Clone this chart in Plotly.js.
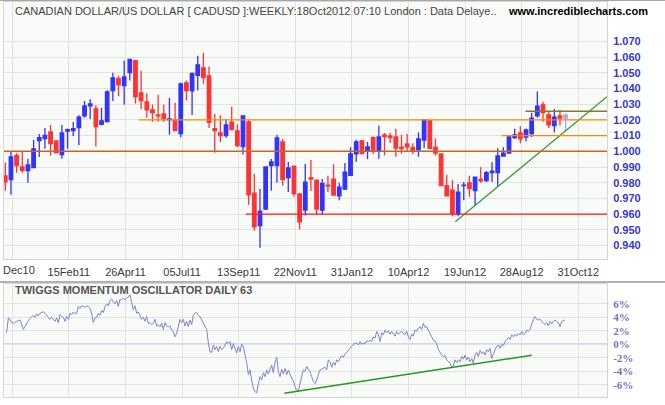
<!DOCTYPE html>
<html><head><meta charset="utf-8">
<script src="https://cdn.plot.ly/plotly-3.0.1.min.js"></script>
<style>html,body{margin:0;padding:0;background:#fff;overflow:hidden}#chart{width:665px;height:405px}</style>
</head><body><div id="chart"></div>
<script>
// ---- weekly CAD/USD candles ----
const opens = [0.9843,0.9819,0.9974,0.9900,0.9877,0.9896,1.0068,1.0081,1.0123,1.0066,
0.9979,1.0128,1.0132,1.0151,1.0226,1.0289,1.0270,1.0172,1.0189,1.0387,
1.0462,1.0419,1.0502,1.0577,1.0372,1.0315,1.0264,1.0232,1.0238,1.0200,
1.0200,1.0113,1.0436,1.0385,1.0483,1.0532,1.0481,1.0145,1.0117,1.0100,
1.0185,1.0130,1.0030,1.0187,0.9734,0.9526,0.9632,0.9909,0.9909,1.0060,
0.9832,0.9906,0.9728,0.9626,0.9832,0.9817,0.9626,0.9785,0.9823,0.9717,
0.9760,0.9847,0.9983,1.0066,1.0000,1.0087,1.0004,1.0104,1.0098,1.0091,
1.0026,1.0047,1.0023,1.0009,1.0072,1.0196,1.0026,0.9983,0.9781,0.9753,
0.9600,0.9781,0.9798,0.9749,0.9821,0.9813,0.9864,0.9864,0.9970,0.9989,
1.0087,1.0117,1.0091,1.0113,1.0226,1.0296,1.0232,1.0164,1.0226,1.0211];
const highs = [0.9928,0.9998,0.9987,1.0000,0.9953,1.0072,1.0111,1.0149,1.0168,1.0070,
1.0168,1.0145,1.0187,1.0230,1.0321,1.0332,1.0294,1.0277,1.0389,1.0500,
1.0481,1.0577,1.0589,1.0583,1.0513,1.0370,1.0298,1.0360,1.0296,1.0340,
1.0310,1.0438,1.0451,1.0502,1.0609,1.0628,1.0540,1.0238,1.0230,1.0204,
1.0283,1.0170,1.0226,1.0200,0.9855,0.9760,0.9900,0.9951,1.0104,1.0079,
0.9932,0.9906,0.9728,0.9919,0.9945,0.9817,0.9823,0.9845,0.9917,0.9800,
0.9926,1.0026,1.0074,1.0074,1.0060,1.0096,1.0162,1.0117,1.0117,1.0143,
1.0106,1.0110,1.0051,1.0119,1.0206,1.0200,1.0081,0.9983,0.9851,0.9817,
0.9791,0.9804,0.9845,0.9836,0.9900,0.9874,0.9932,1.0019,1.0026,1.0098,
1.0143,1.0160,1.0145,1.0245,1.0381,1.0315,1.0253,1.0270,1.0264,1.0243];
const lows = [0.9749,0.9723,0.9864,0.9864,0.9800,0.9896,0.9964,1.0017,0.9972,0.9987,
0.9953,1.0017,1.0098,1.0040,1.0213,1.0206,1.0030,1.0166,1.0183,1.0321,
1.0351,1.0296,1.0451,1.0304,1.0268,1.0215,1.0189,1.0189,1.0189,1.0106,
1.0130,1.0091,1.0323,1.0232,1.0387,1.0430,1.0149,0.9991,1.0057,1.0087,
1.0136,1.0026,0.9979,0.9660,0.9494,0.9385,0.9626,0.9749,0.9800,0.9781,
0.9740,0.9711,0.9504,0.9591,0.9747,0.9598,0.9598,0.9740,0.9717,0.9689,
0.9753,0.9843,0.9932,0.9979,0.9951,0.9983,0.9953,0.9974,1.0053,0.9966,
0.9985,1.0004,0.9983,0.9966,1.0021,1.0015,0.9972,0.9777,0.9713,0.9587,
0.9587,0.9689,0.9711,0.9653,0.9800,0.9804,0.9804,0.9774,0.9966,0.9985,
1.0079,1.0051,1.0062,1.0091,1.0215,1.0189,1.0149,1.0119,1.0164,1.0130];
const closes = [0.9806,0.9964,0.9909,0.9879,0.9913,1.0015,1.0087,1.0102,1.0049,0.9991,
1.0117,1.0138,1.0145,1.0217,1.0289,1.0302,1.0157,1.0194,1.0379,1.0468,
1.0423,1.0474,1.0585,1.0349,1.0323,1.0264,1.0247,1.0226,1.0209,1.0206,
1.0132,1.0430,1.0387,1.0496,1.0551,1.0470,1.0185,1.0132,1.0100,1.0168,
1.0138,1.0036,1.0226,0.9723,0.9519,0.9619,0.9900,0.9932,1.0085,0.9821,
0.9894,0.9730,0.9551,0.9804,0.9823,0.9632,0.9796,0.9779,0.9721,0.9772,
0.9868,0.9983,1.0060,0.9985,1.0028,1.0000,1.0091,1.0094,1.0087,1.0021,
1.0017,1.0028,1.0006,1.0079,1.0200,1.0019,0.9989,0.9781,0.9717,0.9604,
0.9740,0.9785,0.9762,0.9836,0.9811,0.9864,0.9874,0.9970,0.9989,1.0091,
1.0104,1.0079,1.0136,1.0211,1.0287,1.0247,1.0168,1.0217,1.0211,1.0230];

const tickLabels = ['Dec10','15Feb11','26Apr11','05Jul11','13Sep11','22Nov11','31Jan12','10Apr12','19Jun12','28Aug12','31Oct12'];
const priceTicks = [0.94,0.95,0.96,0.97,0.98,0.99,1.00,1.01,1.02,1.03,1.04,1.05,1.06,1.07];

// analyst lines: level and first week they start at
const levelValues = [1.000, 1.020, 0.960, 1.010, 1.0255];
const levelStarts = [null, 23.6, 42.5, 87.7, 91.9];
const levelColors = ['#c8661e','#ff8a00','#ff1a1a','#ff8a00','#7f7f1e'];
const trendWeeks = [79.5, 106.3];
const trendPrices = [0.9551, 1.0347];

// ---- Twiggs Momentum (daily 63), % read at regular intervals ----
const oscValues = [1.7,3.9,3.7,3.2,3.1,3.3,3.4,3.5,3.6,3.0,2.2,2.6,3.1,3.5,3.8,4.0,4.3,4.0,4.5,4.2,
4.6,4.7,4.8,4.6,4.3,4.1,3.7,4.0,3.7,3.4,3.9,3.2,4.4,4.1,4.0,3.4,4.1,3.7,4.6,4.4,
4.8,4.5,4.6,5.6,5.3,5.7,5.6,5.5,5.7,5.6,5.3,4.6,3.2,3.9,4.0,4.6,4.3,5.0,4.7,5.6,
6.0,5.7,6.5,6.7,6.3,6.0,6.5,5.6,6.7,6.6,6.8,6.6,6.8,7.1,7.3,6.2,5.1,5.7,4.6,4.8,
4.1,3.7,4.0,3.4,4.1,3.1,3.2,2.9,3.1,3.7,2.7,2.9,2.6,3.1,2.2,3.2,2.7,2.6,2.7,2.1,
1.9,1.1,1.6,2.6,3.7,3.2,3.7,2.7,3.4,2.6,3.6,2.9,4.3,4.6,4.7,4.3,4.1,3.6,3.1,2.5,
2.2,0.2,-1.1,-1.2,-0.1,-0.8,-0.3,-1.1,-0.3,-0.8,-0.6,-0.1,0.4,0.1,0.4,-0.8,0.1,-0.6,-1.3,-0.3,
-1.1,0.0,-0.3,-1.6,-2.7,-4.5,-3.8,-5.3,-6.5,-7.0,-7.2,-5.8,-4.8,-5.3,-4.2,-4.8,-3.8,-4.4,-3.8,-3.1,
-4.2,-2.6,-1.9,-4.0,-4.8,-3.7,-4.4,-3.6,-4.5,-3.8,-4.5,-5.0,-5.4,-6.3,-6.8,-6.9,-5.8,-4.5,-3.8,-4.0,
-3.3,-3.8,-4.0,-4.8,-5.5,-5.8,-5.3,-4.5,
-3.8,-3.7,-3.6,-3.4,-3.8,-2.3,-2.6,-3.4,-2.7,-3.1,-2.3,-2.6,-2.1,-1.7,-1.9,-1.4,-1.2,-0.8,-0.6,-0.3,
0.0,0.1,0.2,-0.1,0.4,0.0,0.2,0.1,0.5,0.4,0.6,0.4,1.1,0.9,1.9,1.4,0.4,1.7,1.4,2.1,
1.7,2.0,1.5,1.9,1.6,1.2,1.9,1.5,1.7,1.9,1.6,1.4,1.9,1.1,0.7,1.5,1.2,2.1,1.9,2.4,
2.6,2.2,3.1,2.5,2.6,2.2,1.6,1.1,0.6,0.5,0.1,-0.8,-1.3,-1.6,-1.8,-1.7,-2.3,-2.6,-2.8,-3.4,
-3.2,-2.3,-2.7,-2.3,-2.6,-1.8,-2.2,-1.6,-2.3,-1.9,-2.6,-2.1,-2.8,-1.6,-1.2,-1.8,-0.9,-1.4,-1.1,-1.6,
-0.8,-1.1,-0.6,-2.1,-1.3,-0.8,-0.3,-0.1,-0.6,0.0,-0.2,0.4,0.7,1.0,0.7,1.4,1.1,1.5,1.2,1.6,
1.4,1.9,1.4,1.6,2.1,1.9,2.2,3.1,3.7,4.1,3.7,3.6,3.7,3.4,3.2,2.9,3.2,2.7,3.4,3.0,
3.4,3.6,3.4,3.2,2.6,3.4,3.5,3.6];
const oscTicks = [-6,-4,-2,0,2,4,6];
const oscTrendWeeks = [49.3, 93.0];
const oscTrendValues = [-7.26, -1.63];

// ---- build ----
const N = opens.length;
const weeks = opens.map((_, i) => i);
const tickWeeks = tickLabels.map((_, k) => 1.24 + 10 * k);
const oscStep = 0.2945;      // sample spacing in weeks
const oscWeeks = oscValues.map((_, i) => 0.24 + i * oscStep);

const W = 665, H = 405, mL = 4, mR = 58, mT = 2, mB = 8;
const pw = W - mL - mR, ph = H - mT - mB;
const px = x => (x - mL) / pw;
const py = y => (H - mB - y) / ph;

const BLUE = '#3333ff', RED = '#ff3333';
const last = N - 1;
const traces = [
  {type:'candlestick', x: weeks.slice(0, last), open: opens.slice(0, last), high: highs.slice(0, last),
   low: lows.slice(0, last), close: closes.slice(0, last), xaxis:'x', yaxis:'y',
   increasing:{line:{color:BLUE, width:1.3}, fillcolor:BLUE},
   decreasing:{line:{color:RED, width:1.3}, fillcolor:RED}, whiskerwidth:0, hoverinfo:'skip'},
  {type:'candlestick', x:[last-1, last], open:[null, opens[last]], high:[null, highs[last]],
   low:[null, lows[last]], close:[null, closes[last]], xaxis:'x', yaxis:'y',
   increasing:{line:{color:'#a4a8f0', width:1.3}, fillcolor:'#a4a8f0'},
   decreasing:{line:{color:'#a4a8f0', width:1.3}, fillcolor:'#a4a8f0'}, whiskerwidth:0, hoverinfo:'skip'},
  {type:'scatter', mode:'lines', x: trendWeeks, y: trendPrices, xaxis:'x', yaxis:'y',
   line:{color:'#3c9c3c', width:1.3}, hoverinfo:'skip'},
  {type:'scatter', mode:'lines', x: oscWeeks, y: oscValues, xaxis:'x2', yaxis:'y2',
   line:{color:'#8282cc', width:1}, hoverinfo:'skip'},
  {type:'scatter', mode:'lines', x: oscTrendWeeks, y: oscTrendValues, xaxis:'x2', yaxis:'y2',
   line:{color:'#229922', width:1.5}, hoverinfo:'skip'}
];

const shapes = [];
levelValues.forEach((v, i) => {
  const s = levelStarts[i];
  shapes.push({type:'line', xref: s === null ? 'paper' : 'x', yref:'y',
    x0: s === null ? 0 : s, x1: s === null ? 1 : 106.31, y0: v, y1: v,
    line:{color: levelColors[i], width:1.4}, layer:'above'});
});
shapes.push({type:'line', xref:'paper', yref:'y2', x0:0, x1:1, y0:0, y1:0,
  line:{color:'#6b6bc4', width:1.3}, layer:'below'});
shapes.push({type:'line', xref:'paper', yref:'paper', x0:px(0), x1:px(W), y0:py(0.5), y1:py(0.5),
  line:{color:'#a8a8a8', width:1}});
shapes.push({type:'line', xref:'paper', yref:'paper', x0:px(0), x1:px(W), y0:py(282), y1:py(282),
  line:{color:'#9a9a9a', width:1.5}});

const gridC = '#e3e3e3', boxC = '#d6d6d6';
const layout = {
  width: W, height: H,
  margin:{l:mL, r:mR, t:mT, b:mB, pad:0},
  paper_bgcolor:'#ffffff', plot_bgcolor:'#f9fbf9',
  showlegend:false, boxgap:0.12,
  font:{family:'Liberation Sans, Arial, sans-serif', size:11, color:'#333'},
  xaxis:{domain:[0,1], anchor:'y', range:[-0.23, 106.31], tickmode:'array', tickvals: tickWeeks,
    ticktext: tickLabels.map((t, i) => i === 0 ? '' : t),
    showgrid:true, gridcolor:gridC, gridwidth:1, zeroline:false, showline:true, mirror:true, linecolor:boxC,
    ticks:'outside', ticklen:3, tickcolor:'rgba(0,0,0,0)', tickfont:{size:11, color:'#3a3a3a'},
    rangeslider:{visible:false}, fixedrange:true},
  yaxis:{domain:[py(259), py(mT)], anchor:'x', side:'right', range:[0.9314, 1.0951], tickmode:'array', tickvals: priceTicks,
    tickformat:'.3f', showgrid:true, gridcolor:gridC, gridwidth:1, zeroline:false, showline:true, mirror:true, linecolor:boxC,
    ticks:'outside', ticklen:3, tickcolor:'rgba(0,0,0,0)',
    tickfont:{family:'Liberation Sans, Arial, sans-serif', size:11, color:'#3636d8', weight:'bold'}, fixedrange:true},
  xaxis2:{domain:[0,1], anchor:'y2', matches:'x', tickmode:'array', tickvals: tickWeeks, showticklabels:false,
    showgrid:true, gridcolor:gridC, gridwidth:1, zeroline:false, showline:true, mirror:true, linecolor:boxC, ticks:'',
    fixedrange:true},
  yaxis2:{domain:[0, py(284)], anchor:'x2', side:'right', range:[-7.81, 8.93], tickmode:'array', tickvals: oscTicks,
    ticktext: oscTicks.map(v => v + '%'), showgrid:true, gridcolor:gridC, gridwidth:1, zeroline:false,
    showline:true, mirror:true, linecolor:boxC, ticks:'outside', ticklen:3, tickcolor:'rgba(0,0,0,0)',
    tickfont:{family:'Liberation Serif, Times New Roman, serif', size:11, color:'#7474c0', weight:'bold'}, fixedrange:true},
  shapes: shapes,
  annotations:[
    {xref:'paper', yref:'paper', x:px(13), y:py(11), xanchor:'left', yanchor:'middle', showarrow:false,
     text:'CANADIAN DOLLAR/US DOLLAR [ CADUSD ]:WEEKLY:18Oct2012 07:10 London : Data Delaye..',
     font:{family:'Liberation Sans, Arial, sans-serif', size:11, color:'#454545'}},
    {xref:'paper', yref:'paper', x:px(506), y:py(11), xanchor:'left', yanchor:'middle', showarrow:false,
     text:'www.incrediblecharts.com',
     font:{family:'Liberation Sans, Arial, sans-serif', size:11, color:'#000000', weight:'bold'}},
    {xref:'paper', yref:'paper', x:px(13), y:py(290), xanchor:'left', yanchor:'middle', showarrow:false,
     text:'TWIGGS MOMENTUM OSCILLATOR DAILY 63',
     font:{family:'Liberation Sans, Arial, sans-serif', size:11, color:'#555555', weight:'bold'}},
    {xref:'paper', yref:'paper', x:px(1), y:py(270), xanchor:'left', yanchor:'middle', showarrow:false,
     text: tickLabels[0], font:{family:'Liberation Sans, Arial, sans-serif', size:11, color:'#3a3a3a'}}
  ]
};

Plotly.newPlot('chart', traces, layout, {staticPlot:true, displayModeBar:false});
</script>
</body></html>
